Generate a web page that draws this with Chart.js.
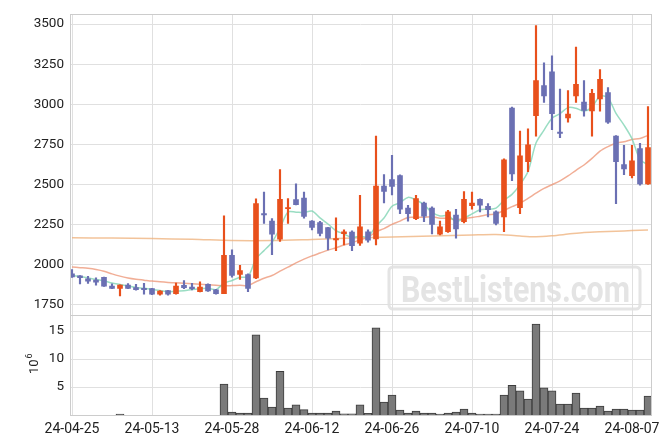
<!DOCTYPE html>
<html>
<head>
<meta charset="utf-8">
<script src="https://cdn.jsdelivr.net/npm/chart.js@4.4.1/dist/chart.umd.min.js"></script>
<style>
  html, body { margin: 0; padding: 0; background: #fff; }
  #wrap { width: 671px; height: 444px; }
</style>
</head>
<body>
<div id="wrap"><canvas id="stockChart" width="671" height="444"></canvas></div>
<script>
// trading days (KRX), one candle each
const dates = ['24-04-25','24-04-26','24-04-29','24-04-30','24-05-02','24-05-03','24-05-07','24-05-08','24-05-09','24-05-10',
  '24-05-13','24-05-14','24-05-16','24-05-17','24-05-20','24-05-21','24-05-22','24-05-23','24-05-24','24-05-27',
  '24-05-28','24-05-29','24-05-30','24-05-31','24-06-03','24-06-04','24-06-05','24-06-07','24-06-10','24-06-11',
  '24-06-12','24-06-13','24-06-14','24-06-17','24-06-18','24-06-19','24-06-20','24-06-21','24-06-24','24-06-25',
  '24-06-26','24-06-27','24-06-28','24-07-01','24-07-02','24-07-03','24-07-04','24-07-05','24-07-08','24-07-09',
  '24-07-10','24-07-11','24-07-12','24-07-15','24-07-16','24-07-17','24-07-18','24-07-19','24-07-22','24-07-23',
  '24-07-24','24-07-25','24-07-26','24-07-29','24-07-30','24-07-31','24-08-01','24-08-02','24-08-05','24-08-06',
  '24-08-07','24-08-08','24-08-09'];

const open  = [1942,1930,1911,1903,1920,1866,1852,1872,1856,1852, 1850,1815,1838,1819,1870,1860,1831,1877,1842,1819,
  2057,1938,1938,1917,2318,2271,2158,2349,2406,2415, 2272,2262,2230,2154,2193,2203,2133,2205,2160,2489,
  2530,2555,2353,2287,2384,2353,2189,2205,2308,2267, 2368,2407,2364,2329,2298,2976,2355,2641,2929,3116,
  3202,2826,2914,3052,3013,2959,3033,3072,2801,2624, 2555,2723,2503];
const high  = [1969,1932,1926,1917,1922,1880,1874,1882,1877,1883, 1852,1838,1840,1884,1901,1883,1893,1880,1845,2304,
  2092,1996,1942,2410,2452,2287,2592,2411,2503,2452, 2275,2270,2232,2292,2216,2210,2432,2216,2801,2561,
  2682,2560,2370,2432,2390,2360,2271,2339,2345,2456, 2452,2410,2380,2335,2660,2982,2832,2847,3490,3258,
  3301,3095,3085,3356,3147,3093,3216,3104,2805,2744, 2744,2756,2986];
const low   = [1920,1880,1883,1872,1864,1850,1805,1850,1840,1815, 1812,1809,1810,1815,1850,1842,1829,1833,1815,1819,
  1922,1908,1831,1912,2257,2062,2144,2257,2372,2290, 2216,2178,2092,2086,2123,2086,2119,2140,2123,2384,
  2435,2318,2271,2280,2267,2191,2185,2200,2164,2260, 2345,2329,2298,2247,2205,2524,2318,2580,2801,3011,
  2842,2791,2888,3011,2925,2801,2956,2880,2380,2561, 2540,2495,2500];
const close = [1923,1918,1897,1891,1866,1852,1872,1852,1843,1843, 1815,1835,1815,1866,1856,1850,1860,1835,1819,2057,
  1932,1963,1852,2380,2310,2189,2407,2356,2374,2300, 2232,2195,2164,2162,2204,2118,2236,2152,2490,2456,
  2487,2345,2318,2411,2302,2250,2236,2329,2222,2407, 2384,2370,2343,2257,2653,2565,2678,2746,3147,3052,
  2941,2818,2939,3124,2962,3068,3155,2888,2641,2596, 2647,2503,2729];

// volume, millions
const volume = [0,0,0,0,0,0,0.15,0,0,0, 0,0,0,0,0,0,0,0,0,5.5,
  0.5,0.35,0.35,14.3,3.0,1.4,7.8,1.25,1.8,0.95, 0.35,0.35,0.35,0.7,0.2,0.2,1.8,0.3,15.55,2.3,
  3.55,0.9,0.35,0.7,0.35,0.35,0.18,0.35,0.53,1.06, 0.35,0.18,0.18,0.18,3.55,5.3,4.3,2.85,16.25,4.85,
  4.3,1.95,1.95,3.9,1.25,1.25,1.6,0.7,1.06,1.06, 0.88,0.88,3.36];

// moving averages
const ma5 = [1932,1925,1917,1907,1899,1885,1876,1867,1857,1852, 1845,1838,1830,1835,1837,1844,1849,1853,1844,1884,
  1901,1921,1925,2037,2087,2139,2228,2328,2327,2325, 2334,2291,2253,2211,2191,2169,2177,2174,2240,2290,
  2364,2386,2419,2403,2373,2325,2303,2306,2268,2289, 2316,2342,2345,2352,2401,2438,2499,2580,2758,2838,
  2913,2941,2979,2975,2957,2982,3050,3039,2943,2870, 2785,2655,2623];
const ma20 = [1985,1981,1977,1970,1959,1942,1928,1917,1909,1903, 1897,1893,1889,1886,1883,1880,1877,1874,1871,1868,
  1869,1871,1869,1893,1915,1932,1959,1984,2011,2034, 2054,2072,2090,2105,2122,2136,2154,2170,2204,2224,
  2251,2271,2294,2295,2295,2298,2289,2288,2281,2286, 2293,2302,2311,2316,2338,2361,2383,2413,2445,2475,
  2498,2522,2553,2588,2621,2662,2708,2736,2757,2766, 2780,2786,2806];
const maLongIdx = [0,5,10,15,20,25,30,35,40,45,50,53,56,58,60,62,64,66,68,70,72];
const maLongVal = [2168,2165,2162,2158,2150,2150,2157,2165,2172,2178,2185,2188,2178,2174,2180,2190,2200,2205,2208,2212,2215];

const tickIdx = [0,10,20,30,40,50,60,70];
const priceTicks = [1750,2000,2250,2500,2750,3000,3250,3500];
const volTicks = [5,10,15];

const upColor = '#e8501c';
const downColor = '#6b70b3';
const gridColor = '#e0e0e0';
const textColor = '#222';

const idx = dates.map((d, i) => i);
const candleColor = c => close[c.dataIndex] >= open[c.dataIndex] ? upColor : downColor;

// watermark behind the grid + panel frames and 10^6 label on top
const decorPlugin = {
    id: 'decor',
    beforeDraw(chart) {
        const ctx = chart.ctx;
        ctx.save();
        ctx.strokeStyle = '#e4e4e4';
        ctx.lineWidth = 3;
        ctx.beginPath();
        ctx.roundRect(389, 267, 251, 42, 4);
        ctx.stroke();
        ctx.fillStyle = '#e4e4e4';
        ctx.font = 'bold 36px Roboto';
        const text = 'BestListens.com';
        const w = ctx.measureText(text).width;
        ctx.translate(401, 302);
        ctx.scale(229 / w, 1);
        ctx.fillText(text, 0, 0);
        ctx.restore();
    },
    afterDraw(chart) {
        const ctx = chart.ctx;
        const a = chart.chartArea;
        const y = chart.scales.y, yv = chart.scales.yv;
        ctx.save();
        ctx.strokeStyle = '#cccccc';
        ctx.lineWidth = 1;
        ctx.strokeRect(Math.round(a.left) + 0.5, Math.round(y.top) + 0.5, Math.round(a.right - a.left), Math.round(y.bottom - y.top));
        ctx.strokeRect(Math.round(a.left) + 0.5, Math.round(yv.top) + 0.5, Math.round(a.right - a.left), Math.round(yv.bottom - yv.top));
        // 10^6 label, rotated
        ctx.fillStyle = textColor;
        ctx.translate(38, 374);
        ctx.rotate(-Math.PI / 2);
        ctx.font = '13px Roboto';
        ctx.textBaseline = 'alphabetic';
        ctx.fillText('10', 0, 0);
        const w = ctx.measureText('10').width;
        ctx.font = '9px Roboto';
        ctx.fillText('6', w + 1, -6);
        ctx.restore();
    }
};

const ctx = document.getElementById('stockChart').getContext('2d');

const chart = new Chart(ctx, {
    type: 'bar',
    data: {
        datasets: [
            {
                label: 'body',
                data: idx.map(i => ({ x: i, y: [open[i], close[i]] })),
                backgroundColor: candleColor,
                barThickness: 5,
                minBarLength: 1,
                grouped: false,
                yAxisID: 'y'
            },
            {
                label: 'wick',
                data: idx.map(i => ({ x: i, y: [low[i], high[i]] })),
                backgroundColor: candleColor,
                barThickness: 1.5,
                grouped: false,
                yAxisID: 'y'
            },
            {
                type: 'line',
                label: 'MA5',
                data: idx.map(i => ({ x: i, y: ma5[i] })),
                borderColor: 'rgba(120, 210, 175, 0.75)',
                borderWidth: 1.5,
                pointRadius: 0,
                tension: 0.3,
                yAxisID: 'y'
            },
            {
                type: 'line',
                label: 'MA20',
                data: idx.map(i => ({ x: i, y: ma20[i] })),
                borderColor: 'rgba(235, 140, 105, 0.7)',
                borderWidth: 1.5,
                pointRadius: 0,
                tension: 0.3,
                yAxisID: 'y'
            },
            {
                type: 'line',
                label: 'MA long',
                data: maLongIdx.map((x, k) => ({ x: x, y: maLongVal[k] })),
                borderColor: 'rgba(238, 175, 120, 0.75)',
                borderWidth: 1.5,
                pointRadius: 0,
                tension: 0.3,
                yAxisID: 'y'
            },
            {
                label: 'volume',
                data: idx.map(i => ({ x: i, y: volume[i] })),
                backgroundColor: '#7a7a7a',
                borderColor: '#3c3c3c',
                borderWidth: 1,
                barThickness: 8,
                grouped: false,
                yAxisID: 'yv'
            }
        ]
    },
    options: {
        responsive: false,
        animation: false,
        events: [],
        layout: { padding: { top: 9, right: 20, left: 0, bottom: 0 } },
        plugins: {
            legend: { display: false },
            tooltip: { enabled: false }
        },
        scales: {
            x: {
                type: 'linear',
                min: -0.25,
                max: 72.375,
                offset: false,
                grid: { color: gridColor, drawTicks: false, offset: false },
                border: { display: false },
                afterBuildTicks: s => { s.ticks = tickIdx.map(v => ({ value: v })); },
                afterFit: s => { s.height = 29; },
                ticks: {
                    callback: v => dates[v],
                    color: textColor,
                    font: { family: 'Roboto', size: 14 },
                    padding: 6,
                    maxRotation: 0,
                    autoSkip: false
                }
            },
            // volume panel listed first so the price panel stacks above it
            yv: {
                position: 'left',
                stack: 'panels',
                stackWeight: 1,
                min: 0,
                max: 17.9,
                grid: { color: gridColor, drawTicks: false },
                border: { display: false },
                afterBuildTicks: s => { s.ticks = volTicks.map(v => ({ value: v })); },
                afterFit: s => { s.width = 70; },
                ticks: {
                    callback: v => String(v),
                    color: textColor,
                    font: { family: 'Roboto', size: 13.5 },
                    padding: 6
                }
            },
            y: {
                position: 'left',
                stack: 'panels',
                stackWeight: 3,
                min: 1687,
                max: 3562,
                grid: { color: gridColor, drawTicks: false },
                border: { display: false },
                afterBuildTicks: s => { s.ticks = priceTicks.map(v => ({ value: v })); },
                afterFit: s => { s.width = 70; },
                ticks: {
                    callback: v => String(v),
                    color: textColor,
                    font: { family: 'Roboto', size: 13.5 },
                    padding: 6
                }
            }
        }
    },
    plugins: [decorPlugin]
});
</script>
</body>
</html>
